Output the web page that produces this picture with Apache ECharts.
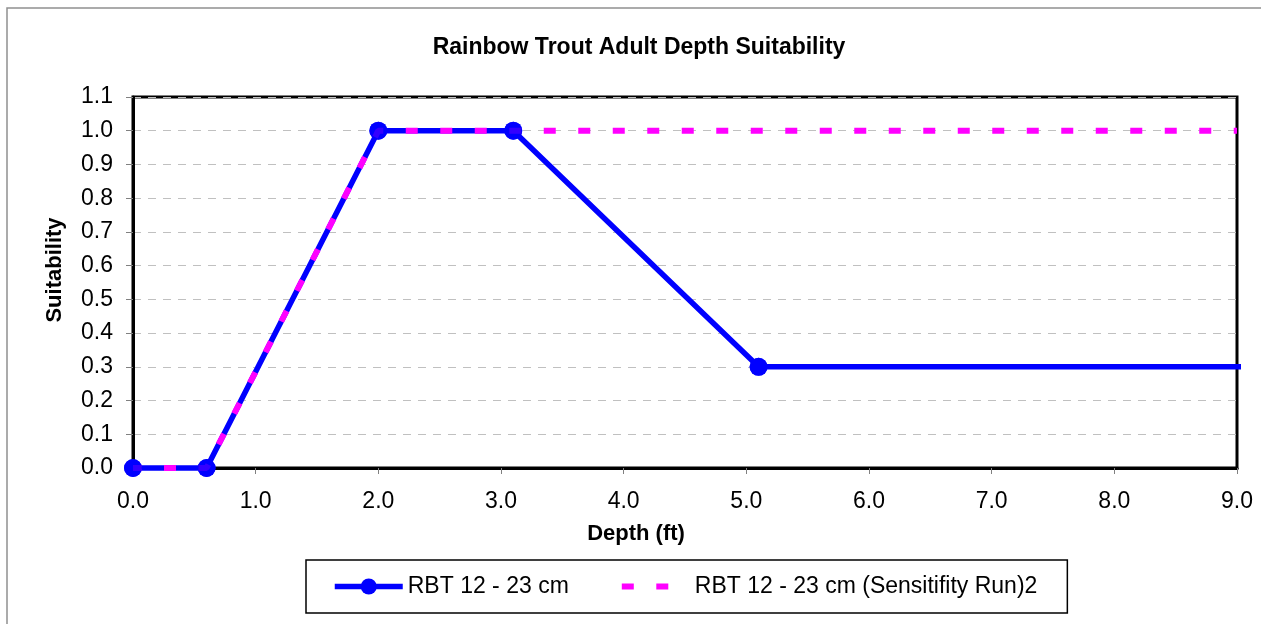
<!DOCTYPE html>
<html>
<head>
<meta charset="utf-8">
<script src="https://cdn.jsdelivr.net/npm/echarts@6/dist/echarts.min.js"></script>
<style>
  html, body { margin: 0; padding: 0; background: #fff; }
  #chart { width: 1261px; height: 624px; }
</style>
</head>
<body>
<div id="chart"></div>
<script>
const titleText = 'Rainbow Trout Adult Depth Suitability';
const xAxisTitle = 'Depth (ft)';
const yAxisTitle = 'Suitability';
const seriesNames = ['RBT 12 - 23 cm', 'RBT 12 - 23 cm (Sensitifity Run)2'];

const baseDepth = [0.0, 0.6, 2.0, 3.1, 5.1, 9.07];
const baseSuit  = [0.0, 0.0, 1.0, 1.0, 0.3, 0.3];
const baseMarkerCount = 5;

const sensDepth = [0.0, 0.6, 2.0, 9.0];
const sensSuit  = [0.0, 0.0, 1.0, 1.0];

const FONT = 'Liberation Sans, Arial, Helvetica, sans-serif';

const baseData = baseDepth.map((d, i) => i < baseMarkerCount ? [d, baseSuit[i]] : { value: [d, baseSuit[i]], symbol: 'none' });
const markerData = baseDepth.slice(0, baseMarkerCount).map((d, i) => [d, baseSuit[i]]);
const sensData = sensDepth.map((d, i) => [d, sensSuit[i]]);

const chart = echarts.init(document.getElementById('chart'), null, { renderer: 'canvas' });
chart.setOption({
  backgroundColor: '#ffffff',
  animation: false,
  textStyle: { fontFamily: FONT },
  grid: {
    left: 133, right: 24, top: 97, bottom: 156,
    show: true, borderColor: '#000000', borderWidth: 3, backgroundColor: 'transparent'
  },
  graphic: [
    { type: 'rect', x: 0, y: 0, shape: { x: 7, y: 8, width: 1300, height: 700 },
      style: { fill: 'none', stroke: '#909090', lineWidth: 1.5 }, silent: true, z: -1 },
    { type: 'text', x: 639, y: 48, style: { text: titleText, font: 'bold 23px ' + FONT, fill: '#000', textAlign: 'center', textVerticalAlign: 'middle' } },
    { type: 'text', x: 636, y: 534, style: { text: xAxisTitle, font: 'bold 22px ' + FONT, fill: '#000', textAlign: 'center', textVerticalAlign: 'middle' } },
    { type: 'text', x: 55, y: 270, rotation: Math.PI / 2, style: { text: yAxisTitle, font: 'bold 22px ' + FONT, fill: '#000', textAlign: 'center', textVerticalAlign: 'middle' } }
  ],
  legend: {
    left: 306, top: 560,
    padding: [15, 30, 15, 26],
    borderColor: '#000', borderWidth: 1.5,
    itemWidth: 68, itemHeight: 20, itemGap: 50,
    textStyle: { fontSize: 23, color: '#000', fontFamily: FONT },
    data: [
      { name: seriesNames[0], lineStyle: { width: 5.5, color: '#0000ff' } },
      { name: seriesNames[1], itemStyle: { opacity: 0 }, lineStyle: { width: 6, color: '#ff00ff', type: [12, 22.5], dashOffset: 0, cap: 'butt' } }
    ]
  },
  xAxis: {
    type: 'value', min: 0, max: 9, interval: 1,
    axisLine: { show: true, lineStyle: { color: '#000', width: 3 } },
    axisTick: { show: true, inside: false, length: 6, lineStyle: { color: '#808080', width: 1 } },
    axisLabel: { fontSize: 23, color: '#000', margin: 22, formatter: v => v.toFixed(1) },
    splitLine: { show: false }
  },
  yAxis: {
    type: 'value', min: 0, max: 1.1, interval: 0.1,
    axisLine: { show: true, lineStyle: { color: '#000', width: 3 } },
    axisTick: { show: true, inside: false, length: 7, lineStyle: { color: '#808080', width: 1 } },
    axisLabel: { fontSize: 23, color: '#000', margin: 20, formatter: v => v.toFixed(1) },
    splitLine: { show: true, lineStyle: { color: '#c0c0c0', width: 1, type: [8, 7] } }
  },
  series: [
    {
      name: seriesNames[0], type: 'line', data: baseData,
      symbol: 'circle', symbolSize: 18, showSymbol: true,
      clip: false, z: 2,
      itemStyle: { color: '#0000ff' },
      lineStyle: { color: '#0000ff', width: 5.5 }
    },
    {
      name: seriesNames[1], type: 'line', data: sensData,
      symbol: 'none', z: 3,
      itemStyle: { color: '#ff00ff' },
      lineStyle: { color: '#ff00ff', width: 6, type: [12, 22.5], dashOffset: 3.5, cap: 'butt' }
    },
    {
      name: 'markers', type: 'scatter', data: markerData,
      symbol: 'circle', symbolSize: 18, z: 4, clip: false,
      itemStyle: { color: '#0000ff' }
    }
  ]
});
</script>
</body>
</html>
